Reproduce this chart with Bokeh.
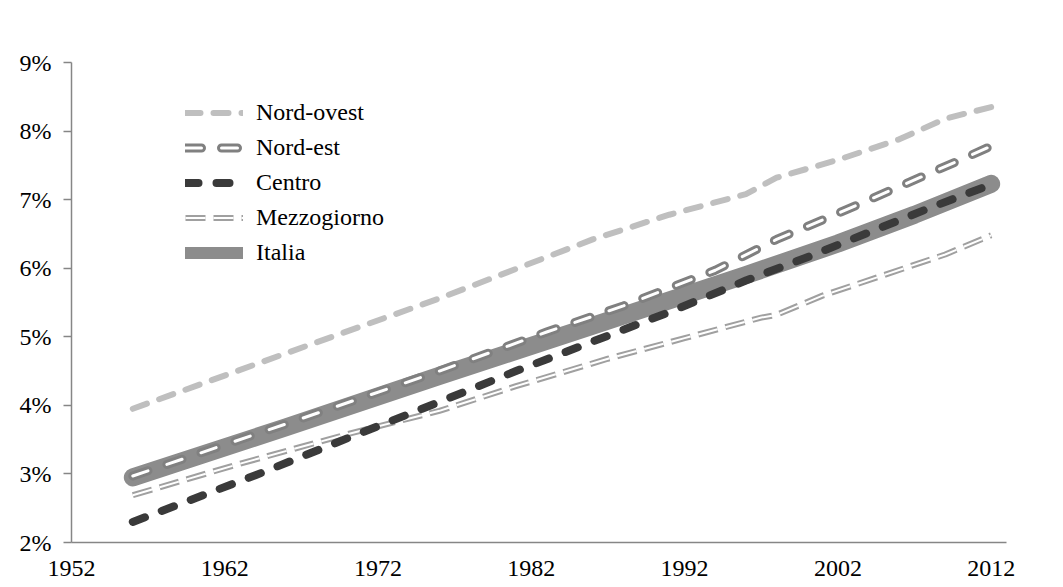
from bokeh.plotting import figure
from bokeh.models import Range1d, FixedTicker, Legend, LegendItem, ColumnDataSource
from bokeh.embed import file_html
from bokeh.resources import INLINE

# ---- data ----
years_nord_ovest = [1956, 1966, 1976, 1986, 1991, 1996, 1998, 2002, 2006, 2009, 2012]
nord_ovest = [3.95, 4.76, 5.56, 6.42, 6.78, 7.08, 7.32, 7.58, 7.88, 8.18, 8.35]

years_nord_est = [1956, 1966, 1976, 1983, 1988, 1994, 1998, 2002, 2006, 2010, 2012]
nord_est = [2.97, 3.73, 4.50, 5.07, 5.45, 5.97, 6.42, 6.80, 7.19, 7.58, 7.78]

years_centro = [1956, 1964, 1970, 1976, 1981, 1986, 1991, 1996, 2000, 2004, 2008, 2012]
centro = [2.30, 2.98, 3.52, 4.05, 4.50, 4.93, 5.36, 5.82, 6.16, 6.52, 6.88, 7.22]

years_mezzogiorno = [1956, 1963, 1970, 1976, 1981, 1987, 1992, 1997, 1998, 2001, 2005, 2009, 2012]
mezzogiorno = [2.69, 3.15, 3.58, 3.92, 4.28, 4.68, 4.98, 5.28, 5.32, 5.60, 5.90, 6.20, 6.48]

years_italia = [1956, 1966, 1976, 1986, 1996, 2002, 2007, 2012]
italia = [2.95, 3.68, 4.43, 5.16, 5.90, 6.36, 6.78, 7.23]

series_labels = ["Nord-ovest", "Nord-est", "Centro", "Mezzogiorno", "Italia"]

y_ticks = [2, 3, 4, 5, 6, 7, 8, 9]
y_tick_labels = ["2%", "3%", "4%", "5%", "6%", "7%", "8%", "9%"]
x_ticks = [1952, 1962, 1972, 1982, 1992, 2002, 2012]
x_tick_labels = ["1952", "1962", "1972", "1982", "1992", "2002", "2012"]

FONT = "Liberation Serif"
AXIS_GREY = "#868686"

p = figure(width=1055, height=587, output_backend="svg", toolbar_location=None,
           x_range=Range1d(1952, 2013), y_range=Range1d(2, 9),
           min_border_left=71, min_border_right=49, min_border_top=62, min_border_bottom=45)
p.outline_line_color = None
p.grid.visible = False
p.background_fill_color = "white"
p.border_fill_color = "white"

# Italia (thick solid band, drawn first)
r_it = p.line(years_italia, italia, line_width=18, line_color="#8c8c8c",
              line_cap="round", line_join="round")
# legend-only proxy for Italia (thinner pill in the legend, draws nothing in the plot)
r_it_leg = p.line(x="x", y="y", source=ColumnDataSource(dict(x=[float("nan")], y=[float("nan")])),
                  line_width=12, line_color="#8c8c8c", line_cap="round")

# Mezzogiorno (double thin dashed lines)
r_mz1 = p.line(years_mezzogiorno, mezzogiorno, line_width=6, line_color="#a0a0a0",
               line_dash="20 8", line_join="round")
r_mz2 = p.line(years_mezzogiorno, mezzogiorno, line_width=2, line_color="white",
               line_dash="20 8", line_join="round")

# Centro (dark dashes)
r_ce = p.line(years_centro, centro, line_width=8, line_color="#3a3a3a",
              line_dash="13 18", line_cap="round", line_join="round")

# Nord-est (outlined dashes)
r_ne1 = p.line(years_nord_est, nord_est, line_width=9, line_color="#808080",
               line_dash="16 20", line_cap="round", line_join="round")
r_ne2 = p.line(years_nord_est, nord_est, line_width=3, line_color="white",
               line_dash="16 20", line_cap="round", line_join="round")

# Nord-ovest (light grey dashes)
r_no = p.line(years_nord_ovest, nord_ovest, line_width=6, line_color="#bfbfbf",
              line_dash="15 13", line_cap="round", line_join="round")

legend = Legend(items=[
    LegendItem(label=series_labels[0], renderers=[r_no]),
    LegendItem(label=series_labels[1], renderers=[r_ne1, r_ne2]),
    LegendItem(label=series_labels[2], renderers=[r_ce]),
    LegendItem(label=series_labels[3], renderers=[r_mz1, r_mz2]),
    LegendItem(label=series_labels[4], renderers=[r_it_leg]),
], location=(114, 272), orientation="vertical",
    glyph_width=58, glyph_height=35, label_height=35, spacing=0,
    padding=0, margin=0, label_standoff=13,
    border_line_color=None, background_fill_alpha=0,
    label_text_font=FONT, label_text_font_size="24px", label_text_color="black")
p.add_layout(legend)

# axes
p.yaxis.ticker = FixedTicker(ticks=y_ticks)
p.yaxis.major_label_overrides = dict(zip(y_ticks, y_tick_labels))
p.yaxis.major_tick_out = 8
p.yaxis.major_tick_in = 0
p.yaxis.minor_tick_out = 0
p.yaxis.minor_tick_in = 0
p.yaxis.major_label_standoff = 12

p.xaxis.ticker = FixedTicker(ticks=x_ticks)
p.xaxis.major_label_overrides = dict(zip(x_ticks, x_tick_labels))
p.xaxis.major_tick_out = 0
p.xaxis.major_tick_in = 0
p.xaxis.minor_tick_out = 0
p.xaxis.minor_tick_in = 0
p.xaxis.major_label_standoff = 18

for ax in (p.xaxis, p.yaxis):
    ax.axis_line_color = AXIS_GREY
    ax.axis_line_width = 1.5
    ax.major_tick_line_color = AXIS_GREY
    ax.major_tick_line_width = 1.5
    ax.major_label_text_font = FONT
    ax.major_label_text_font_size = "24px"
    ax.major_label_text_color = "black"

open("out.html", "w").write(file_html(p, INLINE))
